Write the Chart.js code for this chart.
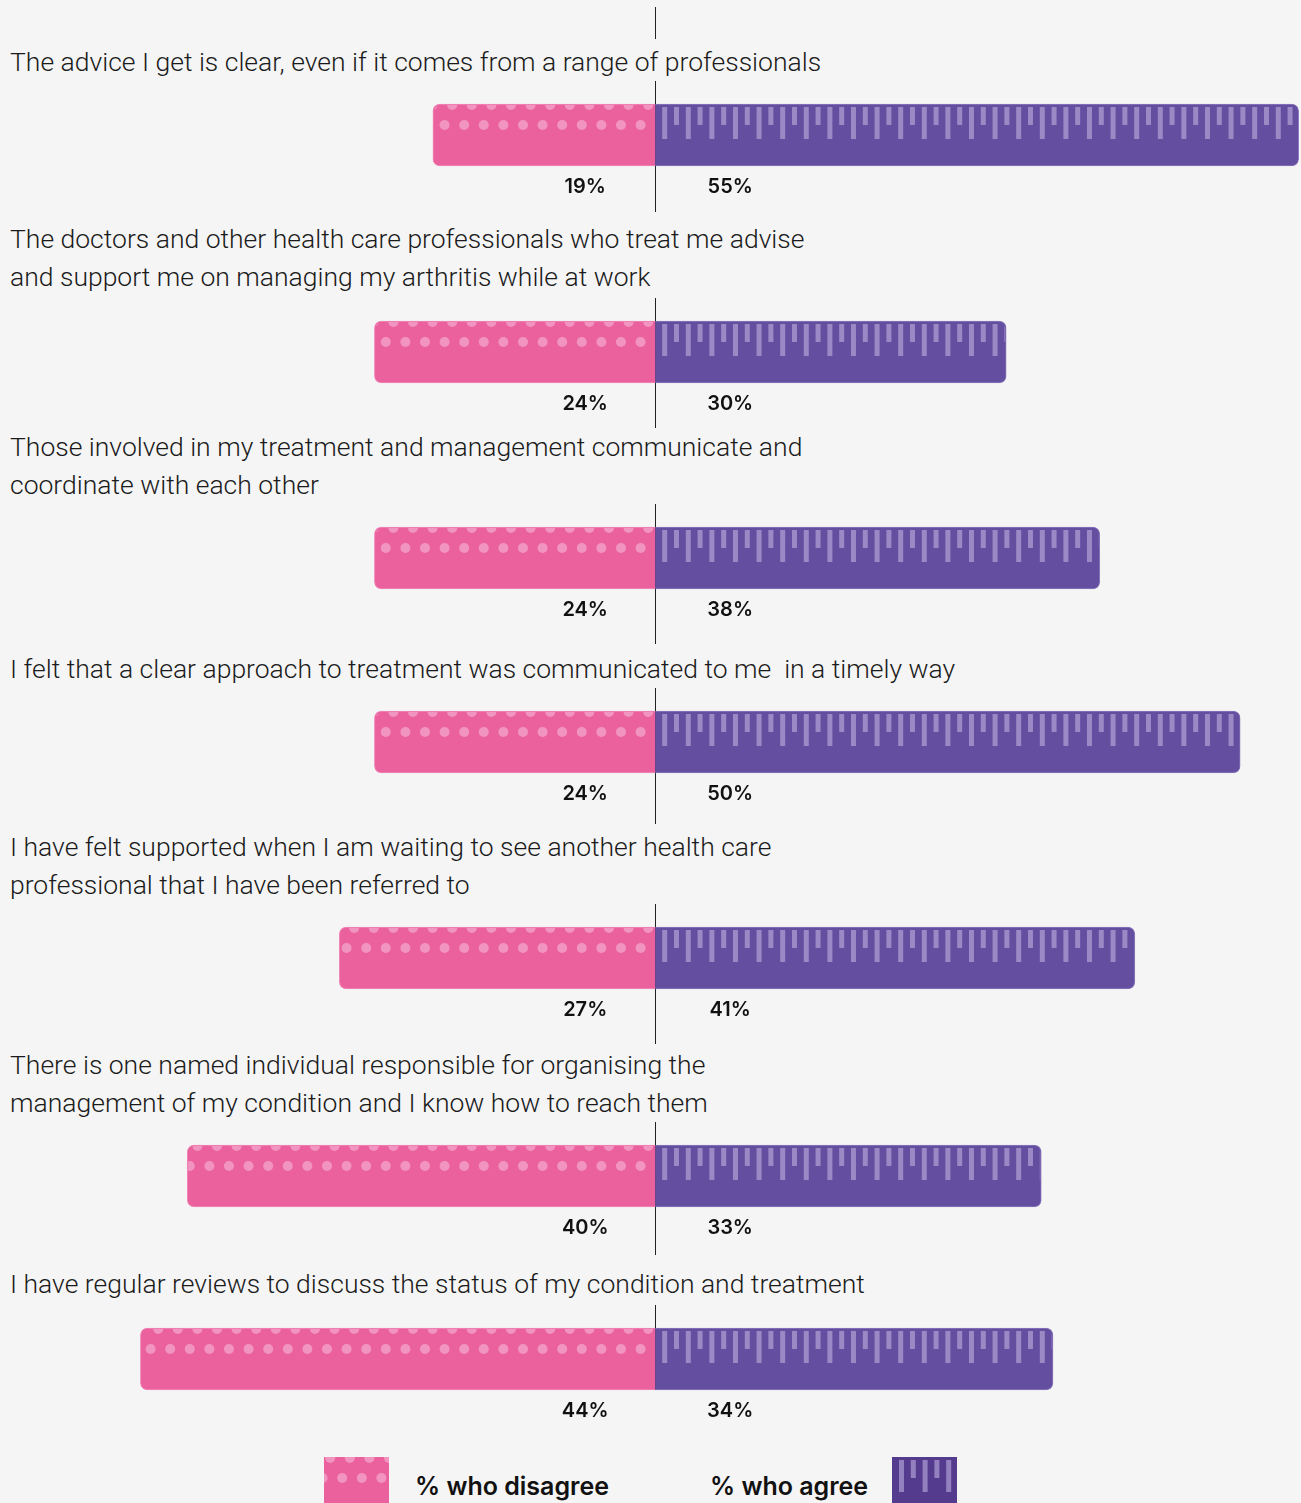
<!DOCTYPE html>
<html>
<head>
<meta charset="utf-8">
<script src="https://cdn.jsdelivr.net/npm/chart.js@4.4.0/dist/chart.umd.min.js"></script>
<style>
html, body { margin:0; padding:0; background:#f5f5f5; overflow:hidden; }
body { width:1301px; height:1503px; position:relative; font-family: Roboto, sans-serif; }
#stub { position:absolute; top:7px; width:1px; height:32px; background:#222; }
#rows { position:absolute; left:0; top:39px; width:1301px; }
.q { padding:0 0 0 10px; font-size:26.5px; font-weight:300; line-height:38px; color:#1b1b1b; white-space:pre; }
.row canvas { display:block; }
#legend { position:absolute; left:0; top:1457px; width:1301px; height:60px; }
#legend canvas, #legend span { position:absolute; top:0; }
#legend span { font-family: Inter, sans-serif; font-weight:600; font-size:25px; line-height:58px; color:#111; }
</style>
</head>
<body>
<div id="stub"></div>
<div id="rows"></div>
<div id="legend">
  <canvas id="swDis" width="65" height="60" style="left:324px"></canvas>
  <span id="lgDis" style="left:415px"></span>
  <span id="lgAgr" style="left:710px"></span>
  <canvas id="swAgr" width="65" height="60" style="left:892px"></canvas>
</div>
<script>
// questions, one array of lines each
var questions = [
  ['The advice I get is clear, even if it comes from a range of professionals'],
  ['The doctors and other health care professionals who treat me advise', 'and support me on managing my arthritis while at work'],
  ['Those involved in my treatment and management communicate and', 'coordinate with each other'],
  ['I felt that a clear approach to treatment was communicated to me  in a timely way'],
  ['I have felt supported when I am waiting to see another health care', 'professional that I have been referred to'],
  ['There is one named individual responsible for organising the', 'management of my condition and I know how to reach them'],
  ['I have regular reviews to discuss the status of my condition and treatment']
];
var disagree = [19, 24, 24, 24, 27, 40, 44];
var agree = [55, 30, 38, 50, 41, 33, 34];
var seriesNames = ['% who disagree', '% who agree'];

// row spacing (layout only)
var labelPadTop = [4, 8, 0, 6, 4, 2, 10];
var labelPadBottom = [0, 2, 0, 0, 0, 0, 2];
var canvasH = [131, 130, 140, 136, 140, 133, 134];

var PINK = '#eb619e', PINK_DOT = '#f195c0';
var PURPLE = '#644ea0', PURPLE_LINE = '#9b89c5';
var R = 7;

function drawDots(ctx, anchor, left, top, color) {
  ctx.fillStyle = color;
  for (var k = 0; ; k++) {
    var cx = anchor - 7 - 19.6 * k;
    if (cx < left - 6) break;
    ctx.beginPath(); ctx.arc(cx, top + 1, 5, 0, Math.PI * 2); ctx.fill();
  }
  for (var k = 0; ; k++) {
    var cx = anchor + 5 - 19.6 * k;
    if (cx < left - 6) break;
    ctx.beginPath(); ctx.arc(cx, top + 21, 5, 0, Math.PI * 2); ctx.fill();
  }
}
function drawStripes(ctx, anchor, right, top, color) {
  ctx.fillStyle = color;
  for (var k = 0; ; k++) {
    var x = anchor + 7 + 11.8 * k;
    if (x > right) break;
    ctx.fillRect(x, top + 3, 5, k % 2 === 0 ? 32 : 18);
  }
}

var rowDeco = {
  id: 'rowDeco',
  beforeDatasetsDraw: function(chart, args, opts) {
    var ctx = chart.ctx;
    var x0 = Math.round(chart.scales.x.getPixelForValue(0)) + 0.5;
    var bottom = chart.height;
    if (opts.stopAtBar) {
      var el = chart.getDatasetMeta(0).data[0];
      bottom = el.y + el.height / 2;
    }
    ctx.save();
    ctx.strokeStyle = '#222';
    ctx.lineWidth = 1;
    ctx.beginPath(); ctx.moveTo(x0, 0); ctx.lineTo(x0, bottom); ctx.stroke();
    ctx.restore();
  },
  afterDatasetsDraw: function(chart) {
    var ctx = chart.ctx;
    var zero = chart.scales.x.getPixelForValue(0);
    chart.data.datasets.forEach(function(ds, di) {
      chart.getDatasetMeta(di).data.forEach(function(bar, i) {
        var p = bar.getProps(['x', 'y', 'base', 'height'], true);
        var left = Math.min(p.x, p.base), right = Math.max(p.x, p.base);
        var top = p.y - p.height / 2, bot = p.y + p.height / 2;
        ctx.save();
        ctx.beginPath();
        ctx.roundRect(left + 1, top + 1, right - left - 2, bot - top - 2, di === 0 ? [R, 0, 0, R] : [0, R, R, 0]);
        ctx.clip();
        if (di === 0) drawDots(ctx, zero, left, top, PINK_DOT);
        else drawStripes(ctx, zero, right, top, PURPLE_LINE);
        ctx.restore();
        ctx.save();
        ctx.font = '600 20px Inter';
        ctx.fillStyle = '#111';
        ctx.textAlign = 'center';
        ctx.textBaseline = 'middle';
        ctx.fillText(Math.abs(ds.data[i]) + '%', di === 0 ? zero - 70 : zero + 75, bot + 21);
        ctx.restore();
      });
    });
  }
};

var rows = document.getElementById('rows');
var charts = [];
questions.forEach(function(q, i) {
  var row = document.createElement('div');
  row.className = 'row';
  var lab = document.createElement('div');
  lab.className = 'q';
  lab.style.paddingTop = labelPadTop[i] + 'px';
  lab.style.paddingBottom = labelPadBottom[i] + 'px';
  lab.textContent = q.join('\n');
  var cv = document.createElement('canvas');
  cv.width = 1301;
  cv.height = canvasH[i];
  row.appendChild(lab);
  row.appendChild(cv);
  rows.appendChild(row);

  charts.push(new Chart(cv.getContext('2d'), {
    type: 'bar',
    data: {
      labels: [q.join(' ')],
      datasets: [{
        label: seriesNames[0],
        data: [-disagree[i]],
        backgroundColor: PINK,
        borderColor: '#f08ab8',
        borderWidth: 1,
        borderRadius: R,
        borderSkipped: 'start',
        barThickness: 62
      }, {
        label: seriesNames[1],
        data: [agree[i]],
        backgroundColor: PURPLE,
        borderColor: '#8b79bd',
        borderWidth: 1,
        borderRadius: R,
        borderSkipped: 'start',
        barThickness: 62
      }]
    },
    options: {
      indexAxis: 'y',
      responsive: false,
      animation: false,
      layout: { padding: { top: 0, bottom: canvasH[i] - 108, left: 0, right: 0 } },
      scales: {
        x: { type: 'linear', stacked: true, min: -56, max: 55.2, display: false },
        y: { stacked: true, display: false }
      },
      plugins: {
        legend: { display: false },
        tooltip: { enabled: false },
        rowDeco: { stopAtBar: i === questions.length - 1 }
      }
    },
    plugins: [rowDeco]
  }));
});

document.getElementById('stub').style.left = Math.round(charts[0].scales.x.getPixelForValue(0)) + 'px';

// legend
document.getElementById('lgDis').textContent = seriesNames[0];
document.getElementById('lgAgr').textContent = seriesNames[1];
var c1 = document.getElementById('swDis').getContext('2d');
c1.fillStyle = PINK; c1.fillRect(0, 0, 65, 60);
drawDots(c1, 72, 0, 0, PINK_DOT);
var c2 = document.getElementById('swAgr').getContext('2d');
c2.fillStyle = '#553b8d'; c2.fillRect(0, 0, 65, 60);
drawStripes(c2, 0, 65, 0, '#9381bf');
</script>
</body>
</html>
